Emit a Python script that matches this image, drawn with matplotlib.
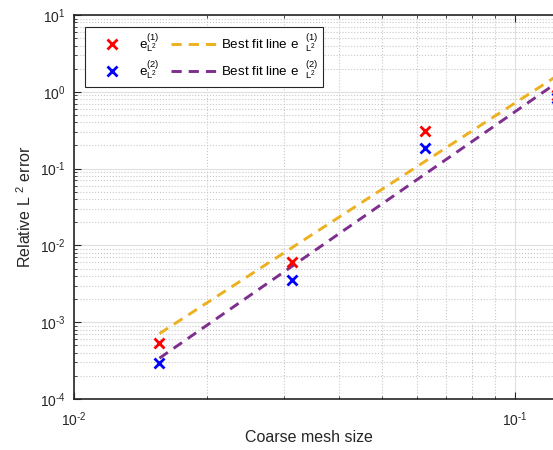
import matplotlib
matplotlib.use("Agg")
import matplotlib.pyplot as plt
import numpy as np
from matplotlib.ticker import LogLocator, FixedLocator, FuncFormatter, NullFormatter

plt.rcParams['font.family'] = ['Liberation Sans', 'DejaVu Sans']
plt.rcParams['mathtext.fontset'] = 'custom'
plt.rcParams['mathtext.rm'] = 'Liberation Sans'
plt.rcParams['mathtext.it'] = 'Liberation Sans:italic'
plt.rcParams['mathtext.bf'] = 'Liberation Sans:bold'

# Data
mesh_size = [0.015625, 0.03125, 0.0625, 0.125]
err1 = [5.4e-4, 6.0e-3, 0.31, 0.90]
err2 = [2.9e-4, 3.5e-3, 0.188, 0.83]
fit_x = [0.015625, 0.125]
fit1 = [7.1e-4, 1.63]
fit2 = [3.4e-4, 1.33]

x_ticks = [1e-2, 1e-1]
x_tick_labels = [r'$\mathregular{10^{\text{-}2}}$', r'$\mathregular{10^{\text{-}1}}$']
y_ticks = [1e-4, 1e-3, 1e-2, 1e-1, 1e0, 1e1]
y_tick_labels = [r'$\mathregular{10^{\text{-}4}}$', r'$\mathregular{10^{\text{-}3}}$',
                 r'$\mathregular{10^{\text{-}2}}$', r'$\mathregular{10^{\text{-}1}}$',
                 r'$\mathregular{10^{0}}$', r'$\mathregular{10^{1}}$']

W, H = 553, 450
fig = plt.figure(figsize=(W / 100, H / 100), dpi=100)
ax = fig.add_axes([74 / W, (H - 399) / H, 491 / W, 384 / H])
ax.set_xscale('log')
ax.set_yscale('log')
ax.set_xlim(1e-2, 0.13)
ax.set_ylim(1e-4, 1e1)

yellow = '#EDB120'
purple = '#7E2F8E'

ax.plot(mesh_size, err1, linestyle='none', marker='x', color='red', markersize=6.5, mew=2.0,
        label=r'$\mathregular{e^{(1)}_{L^2}}$', zorder=4)
ax.plot(mesh_size, err2, linestyle='none', marker='x', color='blue', markersize=6.5, mew=2.0,
        label=r'$\mathregular{e^{(2)}_{L^2}}$', zorder=4)
ax.plot(fit_x, fit1, linestyle=(0, (3.5, 2.4)), color=yellow, lw=2.1,
        label=r'Best fit line e  $\mathregular{{}^{(1)}_{L^2}}$', zorder=3)
ax.plot(fit_x, fit2, linestyle=(0, (3.5, 2.4)), color=purple, lw=2.1,
        label=r'Best fit line e  $\mathregular{{}^{(2)}_{L^2}}$', zorder=3)

ax.xaxis.set_major_locator(FixedLocator(x_ticks))
ax.xaxis.set_major_formatter(FuncFormatter(lambda v, p: x_tick_labels[x_ticks.index(v)] if v in x_ticks else ''))
ax.xaxis.set_minor_locator(LogLocator(base=10, subs=np.arange(2, 10), numticks=20))
ax.xaxis.set_minor_formatter(NullFormatter())
ax.yaxis.set_major_locator(FixedLocator(y_ticks))
ax.yaxis.set_major_formatter(FuncFormatter(lambda v, p: y_tick_labels[y_ticks.index(v)] if v in y_ticks else ''))
ax.yaxis.set_minor_locator(LogLocator(base=10, subs=np.arange(2, 10), numticks=20))
ax.yaxis.set_minor_formatter(NullFormatter())

ax.grid(True, which='major', color='#e0e0e0', linestyle='-', linewidth=0.8)
ax.grid(True, which='minor', color='#c8c8c8', linestyle=':', linewidth=0.8)
ax.set_axisbelow(True)

spine_col = '#262626'
for s in ax.spines.values():
    s.set_color(spine_col)
    s.set_linewidth(1.2)
ax.tick_params(which='both', direction='in', top=True, right=True, colors=spine_col,
               labelcolor='#262626', labelsize=10)
ax.tick_params(which='major', length=5, width=0.8)
ax.tick_params(which='minor', length=2.5, width=0.6)
ax.tick_params(axis='x', which='major', pad=8)
ax.tick_params(axis='y', which='major', pad=6)

ax.set_xlabel('Coarse mesh size', fontsize=11.5, color='#262626')
ax.xaxis.set_label_coords(309 / W, 1 - 430 / H, transform=fig.transFigure)
ax.set_ylabel(r'Relative L ${}^{\mathregular{2}}$ error', fontsize=11.5, color='#262626')
ax.yaxis.set_label_coords(34 / W, 1 - 207 / H, transform=fig.transFigure)

leg = ax.legend(ncol=2, loc='upper left', bbox_to_anchor=(85 / W, 1 - 27 / H),
                bbox_transform=fig.transFigure, borderaxespad=0, fontsize=9.6,
                handlelength=3.4, handletextpad=0.3, columnspacing=0.9,
                fancybox=False, framealpha=1, edgecolor='#262626', borderpad=0.35,
                labelspacing=0.3)
leg.get_frame().set_linewidth(0.8)

fig.savefig('out.png', dpi=100)
